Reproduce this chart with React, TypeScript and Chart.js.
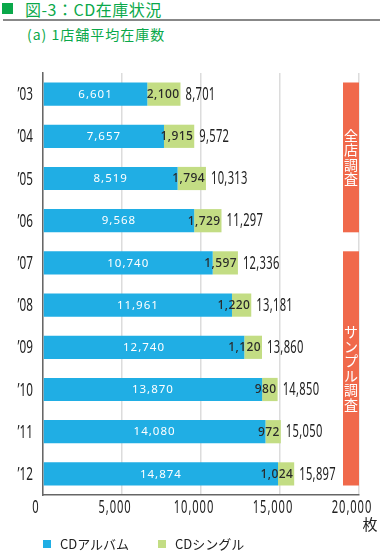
import React, { useEffect, useRef } from "react";
import { Chart, registerables } from "chart.js";

Chart.register(...registerables);

const years = ["’03", "’04", "’05", "’06", "’07", "’08", "’09", "’10", "’11", "’12"];
const album = [6601, 7657, 8519, 9568, 10740, 11961, 12740, 13870, 14080, 14874];
const single = [2100, 1915, 1794, 1729, 1597, 1220, 1120, 980, 972, 1024];
const totals = [8701, 9572, 10313, 11297, 12336, 13181, 13860, 14850, 15050, 15897];
const xMax = 20000;
const xStep = 5000;
const unitLabel = "枚";
const bandGroups = [
  { text: "全店調査", from: 0, to: 3 },
  { text: "サンプル調査", from: 4, to: 9 },
];

const BLUE = "#20AEE4";
const GREEN = "#C3DD84";
const RED = "#F0694B";
const TITLE_GREEN = "#0AA84A";
const SANS = "'Noto Sans', 'DejaVu Sans', sans-serif";
const CJK = "'Noto Sans CJK JP', 'Noto Sans', sans-serif";

const fmt = (v: number) => v.toLocaleString("en-US");

function narrowText(ctx: any, text: string, x: number, y: number, align: string, sx: number, spacing = 0) {
  ctx.save();
  ctx.translate(x, y);
  ctx.scale(sx, 1);
  ctx.textAlign = align;
  ctx.letterSpacing = `${spacing}px`;
  ctx.fillText(text, 0, 0);
  ctx.restore();
}

const labelPlugin = {
  id: "labels",
  afterDatasetsDraw(chart: any) {
    const ctx = chart.ctx;
    const m0 = chart.getDatasetMeta(0);
    const m1 = chart.getDatasetMeta(1);
    const area = chart.chartArea;
    ctx.save();
    ctx.textBaseline = "middle";
    m0.data.forEach((b: any, i: number) => {
      const b1 = m1.data[i];
      ctx.fillStyle = "#ffffff";
      ctx.font = `11.5px ${SANS}`;
      narrowText(ctx, fmt(album[i]), (b.base + b.x) / 2, b.y + 0.5, "center", 1, 1);
      ctx.fillStyle = "#2a2a2a";
      ctx.font = `500 12px ${SANS}`;
      narrowText(ctx, fmt(single[i]), b1.x - 1, b1.y + 0.5, "right", 1, 0.4);
      ctx.fillStyle = "#222";
      ctx.font = `18px ${SANS}`;
      narrowText(ctx, fmt(totals[i]), b1.x + 5, b1.y + 0.5, "left", 0.62, 0.5);
    });
    // bands
    bandGroups.forEach((g) => {
      const a = m0.data[g.from];
      const z = m0.data[g.to];
      const top = a.y - a.height / 2;
      const bottom = z.y + z.height / 2;
      const w = 16;
      const left = area.right - w;
      ctx.fillStyle = RED;
      ctx.fillRect(left, top, w, bottom - top);
      ctx.fillStyle = "#fff";
      ctx.font = `14px ${CJK}`;
      ctx.textAlign = "center";
      const step = 14.5;
      const chars = Array.from(g.text);
      const mid = (top + bottom) / 2;
      const start = mid - (step * (chars.length - 1)) / 2;
      chars.forEach((c, k) => {
        ctx.fillText(c, left + w / 2, start + k * step);
      });
    });
    // axis tick labels (drawn narrow)
    const xs = chart.scales.x;
    const ys = chart.scales.y;
    ctx.fillStyle = "#222";
    ctx.font = `18px ${SANS}`;
    xs.ticks.forEach((t: any, i: number) => {
      narrowText(ctx, fmt(t.value), xs.getPixelForTick(i) - 7, area.bottom + 13, "center", 0.62, 1.5);
    });
    ys.ticks.forEach((t: any, i: number) => {
      narrowText(ctx, years[i], ys.right - 10, ys.getPixelForTick(i) + 1, "right", 0.65, 0);
    });
    ctx.font = `15px ${CJK}`;
    ctx.textAlign = "center";
    ctx.fillText(unitLabel, area.right + 11, area.bottom + 29);
    ctx.restore();
  },
};

export default function App() {
  const ref = useRef<HTMLCanvasElement | null>(null);
  useEffect(() => {
    if (!ref.current) return;
    const chart = new Chart(ref.current, {
      type: "bar",
      data: {
        labels: years,
        datasets: [
          { label: "CDアルバム", data: album, backgroundColor: BLUE, barPercentage: 0.55, categoryPercentage: 1 },
          { label: "CDシングル", data: single, backgroundColor: GREEN, barPercentage: 0.55, categoryPercentage: 1 },
        ],
      },
      options: {
        indexAxis: "y",
        responsive: false,
        animation: false,
        layout: { padding: { left: 0, top: 73, right: 21, bottom: 0 } },
        plugins: { legend: { display: false }, tooltip: { enabled: false }, title: { display: false } },
        scales: {
          x: {
            stacked: true,
            min: 0,
            max: xMax,
            ticks: { stepSize: xStep, display: false },
            grid: { color: "#dcdcdc", lineWidth: 1.5, drawTicks: false },
            border: { color: "#666", width: 1.5 },
            afterFit: (s: any) => {
              s.height = 60;
            },
          },
          y: {
            stacked: true,
            ticks: { display: false },
            grid: { display: false, drawTicks: false },
            border: { color: "#666", width: 1.5 },
            afterFit: (s: any) => {
              s.width = 43;
            },
          },
        },
      },
      plugins: [labelPlugin],
    } as any);
    return () => chart.destroy();
  }, []);

  return (
    <div style={{ position: "fixed", left: 0, top: 0, width: 380, height: 555, background: "#fff", overflow: "hidden" }}>
      <div style={{ position: "absolute", left: 2, top: 3, width: 11, height: 11, background: TITLE_GREEN }} />
      <div
        style={{
          position: "absolute",
          left: 25,
          top: -3,
          fontFamily: CJK,
          fontSize: 16,
          letterSpacing: 0.5,
          color: TITLE_GREEN,
          whiteSpace: "nowrap",
        }}
      >
        図-3：CD在庫状況
      </div>
      <div style={{ position: "absolute", left: 3, right: 0, top: 19, height: 1.5, background: "#888" }} />
      <div
        style={{
          position: "absolute",
          left: 27,
          top: 24,
          fontFamily: CJK,
          fontSize: 14,
          letterSpacing: 1,
          color: TITLE_GREEN,
          whiteSpace: "nowrap",
        }}
      >
        (a) 1店舗平均在庫数
      </div>
      <canvas ref={ref} width={380} height={555} style={{ position: "absolute", left: 0, top: 0, width: 380, height: 555 }} />
      <div style={{ position: "absolute", left: 43, top: 540, width: 8, height: 8, background: BLUE }} />
      <div style={{ position: "absolute", left: 60, top: 534, fontFamily: CJK, fontSize: 13, color: "#222", whiteSpace: "nowrap" }}>
        CDアルバム
      </div>
      <div style={{ position: "absolute", left: 158, top: 540, width: 8, height: 8, background: GREEN }} />
      <div style={{ position: "absolute", left: 175, top: 534, fontFamily: CJK, fontSize: 13, color: "#222", whiteSpace: "nowrap" }}>
        CDシングル
      </div>
    </div>
  );
}
